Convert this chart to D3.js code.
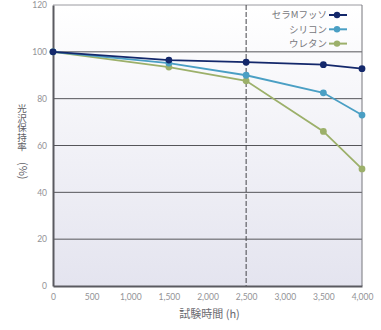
<!DOCTYPE html>
<html>
<head>
<meta charset="utf-8">
<script src="https://cdn.jsdelivr.net/npm/d3@7"></script>
<style>
  html, body { margin: 0; padding: 0; background: #fff; }
  svg { display: block; font-family: "Noto Sans CJK JP", "Noto Sans", sans-serif; }
</style>
</head>
<body>
<svg id="chart" width="381" height="330"></svg>
<script>
// Test hours on the x axis
const hours = [0, 1500, 2500, 3500, 4000];
// Gloss retention (%) per coating
const seriesNames = ["セラMフッソ", "シリコン", "ウレタン"];
const ceraM = [100, 96.5, 95.6, 94.5, 92.8];
const silicone = [100, 95.2, 90, 82.5, 73];
const urethane = [100, 93.5, 87.6, 66, 50];
const seriesColors = ["#14286b", "#4a9fc4", "#9cb06a"];
// Axis ticks
const xTicks = [0, 500, 1000, 1500, 2000, 2500, 3000, 3500, 4000];
const yTicks = [0, 20, 40, 60, 80, 100, 120];
const xTitle = "試験時間 (h)";
const yTitleMain = "光沢保持率";
const yTitleUnit = "(%)";

const series = [ceraM, silicone, urethane].map((vals, i) => ({
  name: seriesNames[i], color: seriesColors[i],
  points: vals.map((v, j) => ({ x: hours[j], y: v }))
}));

const svg = d3.select("#chart");
const m = { left: 53, right: 19, top: 5, bottom: 44 };
const W = 381, H = 330;
const x = d3.scaleLinear().domain([0, 4000]).range([m.left, W - m.right]);
const y = d3.scaleLinear().domain([0, 120]).range([H - m.bottom, m.top]);

// Plot background: white at the top fading to pale lavender
const defs = svg.append("defs");
const grad = defs.append("linearGradient").attr("id", "bg").attr("x1", 0).attr("y1", 0).attr("x2", 0).attr("y2", 1);
grad.append("stop").attr("offset", "0%").attr("stop-color", "#ffffff");
grad.append("stop").attr("offset", "100%").attr("stop-color", "#e4e4ef");
svg.append("rect")
  .attr("x", x(0)).attr("y", y(120))
  .attr("width", x(4000) - x(0)).attr("height", y(0) - y(120))
  .attr("fill", "url(#bg)");

// Horizontal grid lines
svg.append("g").selectAll("line").data(yTicks.filter(t => t > 0))
  .join("line")
  .attr("x1", x(0)).attr("x2", x(4000))
  .attr("y1", d => y(d)).attr("y2", d => y(d))
  .attr("stroke", d => d === 120 ? "#9a9aa0" : "#55555a")
  .attr("stroke-width", 1);

// Right border
svg.append("line")
  .attr("x1", x(4000)).attr("x2", x(4000))
  .attr("y1", y(120)).attr("y2", y(0))
  .attr("stroke", "#77777c").attr("stroke-width", 1);

// Dashed marker at 2,500 h
svg.append("line")
  .attr("x1", x(2500)).attr("x2", x(2500))
  .attr("y1", y(120)).attr("y2", y(0))
  .attr("stroke", "#444448").attr("stroke-width", 1)
  .attr("stroke-dasharray", "5,2");

// Axes
const yAxis = svg.append("g").attr("transform", `translate(${x(0)},0)`)
  .call(d3.axisLeft(y).tickValues(yTicks).tickSize(0).tickPadding(6));
const xAxis = svg.append("g").attr("transform", `translate(0,${y(0)})`)
  .call(d3.axisBottom(x).tickValues(xTicks).tickSize(0).tickPadding(8)
    .tickFormat(d3.format(",")));
[yAxis, xAxis].forEach(a => {
  a.select(".domain").attr("stroke", "#5a5a60").attr("stroke-width", 2);
  a.selectAll("text").attr("fill", "#929296").attr("font-size", 8.5)
    .attr("font-family", "Lato, 'Open Sans', sans-serif");
});

// Series lines and markers
const line = d3.line().x(d => x(d.x)).y(d => y(d.y));
const g = svg.append("g");
series.slice().reverse().forEach(s => {
  g.append("path").datum(s.points)
    .attr("fill", "none").attr("stroke", s.color).attr("stroke-width", 1.8)
    .attr("d", line);
  g.selectAll(null).data(s.points).join("circle")
    .attr("cx", d => x(d.x)).attr("cy", d => y(d.y)).attr("r", 3.4)
    .attr("fill", s.color);
});

// Legend
const lg = svg.append("g");
series.forEach((s, i) => {
  const ly = 15 + i * 14.3;
  lg.append("text").attr("x", 327).attr("y", ly).attr("dy", "0.35em")
    .attr("text-anchor", "end").attr("font-size", 9.5).attr("fill", "#77777c")
    .text(s.name);
  lg.append("line").attr("x1", 329).attr("x2", 347).attr("y1", ly).attr("y2", ly)
    .attr("stroke", s.color).attr("stroke-width", 2);
  lg.append("circle").attr("cx", 337).attr("cy", ly).attr("r", 3.2).attr("fill", s.color);
});

// Axis titles
svg.append("text")
  .attr("x", (x(0) + x(4000)) / 2 + 2).attr("y", 318)
  .attr("text-anchor", "middle").attr("font-size", 11).attr("fill", "#6a6a70")
  .text(xTitle);

// Vertical y title: the run is turned to go downward and each CJK glyph is
// turned back upright with the per-glyph rotate list; the unit stays sideways.
const fs = 9.5;
const yt = svg.append("text")
  .attr("transform", `translate(${22 - fs / 2},${104 + 0.88 * fs}) rotate(90)`)
  .attr("fill", "#606066").attr("font-size", fs)
  .attr("rotate", yTitleMain.split("").map(() => -90).concat([0]).join(" "));
yt.append("tspan").text(yTitleMain);
yt.append("tspan").attr("dx", 2).attr("dy", -1.5).attr("font-size", 11).text(yTitleUnit);
</script>
</body>
</html>
